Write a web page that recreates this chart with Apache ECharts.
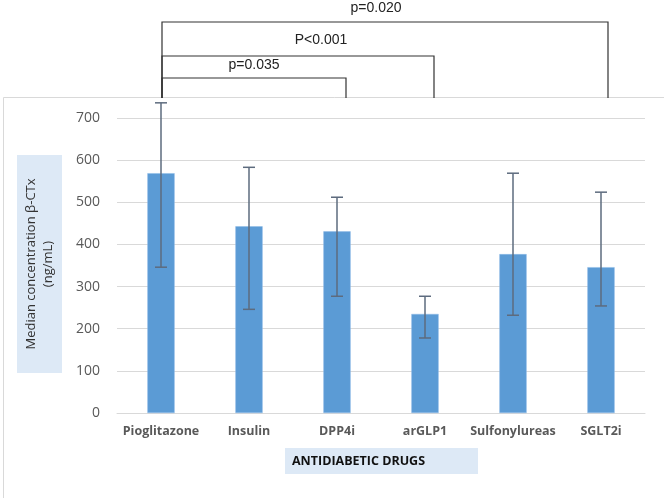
<!DOCTYPE html>
<html><head><meta charset="utf-8">
<script src="https://cdn.jsdelivr.net/npm/echarts@6/dist/echarts.min.js"></script>
<style>html,body{margin:0;padding:0;background:#fff}#c{width:664px;height:498px}</style>
</head><body><div id="c"></div>
<script>
const categories = ['Pioglitazone', 'Insulin', 'DPP4i', 'arGLP1', 'Sulfonylureas', 'SGLT2i'];
const medians = [569, 443, 431, 235, 377, 346];
const errLow = [346, 246, 277, 178, 232, 254];
const errHigh = [736, 583, 512, 277, 569, 524];
const yTicks = [0, 100, 200, 300, 400, 500, 600, 700];
const comparisons = [
  { from: 0, to: 2, label: 'p=0.035' },
  { from: 0, to: 3, label: 'P<0.001' },
  { from: 0, to: 5, label: 'p=0.020' }
];
const yTitle = ['Median concentration \u03b2-CTx', '(ng/mL)'];
const xTitle = 'ANTIDIABETIC DRUGS';

const chart = echarts.init(document.getElementById('c'), null, { renderer: 'canvas' });
const errData = categories.map((c, i) => [i, errLow[i], errHigh[i]]);

chart.setOption({
  animation: false,
  backgroundColor: '#fff',
  grid: { left: 117, right: 19, top: 118, bottom: 85 },
  xAxis: {
    type: 'category', data: categories,
    axisLine: { show: true, lineStyle: { color: '#d9d9d9' } },
    axisTick: { show: false },
    axisLabel: { interval: 0, color: '#595959', fontWeight: 'bold', fontSize: 12.5, fontFamily: 'Open Sans', margin: 12 }
  },
  yAxis: {
    type: 'value', min: yTicks[0], max: yTicks[yTicks.length - 1], interval: 100,
    axisLine: { show: false }, axisTick: { show: false },
    axisLabel: { color: '#595959', fontSize: 14, fontFamily: 'Open Sans', margin: 17 },
    splitLine: { lineStyle: { color: '#d9d9d9', width: 1 } }
  },
  series: [
    {
      type: 'bar', data: medians, barWidth: '31%',
      itemStyle: { color: '#5b9bd5', borderColor: '#8fbbe6', borderWidth: 0.5 }
    },
    {
      type: 'custom', data: errData, clip: false, z: 10,
      renderItem: function (params, api) {
        const x = api.coord([api.value(0), 0])[0];
        const lo = api.coord([api.value(0), api.value(1)])[1];
        const hi = api.coord([api.value(0), api.value(2)])[1];
        const w = 6;
        const st = { stroke: '#5d6b7e', lineWidth: 1.5 };
        return {
          type: 'group', children: [
            { type: 'line', shape: { x1: x, y1: lo, x2: x, y2: hi }, style: st },
            { type: 'line', shape: { x1: x - w, y1: hi, x2: x + w, y2: hi }, style: st },
            { type: 'line', shape: { x1: x - w, y1: lo, x2: x + w, y2: lo }, style: st }
          ]
        };
      }
    }
  ]
});

// annotations: panel, titles, significance brackets
const bracketY = [78, 56, 22];
const labelY = [65, 40, 8];
const labelShift = [0, 23, -9];
const bottomY = 98;
const graphics = [
  { type: 'rect', shape: { x: 3.5, y: 97.5, width: 700, height: 420 }, style: { fill: null, stroke: '#d9d9d9', lineWidth: 1 }, z: -1 },
  { type: 'rect', shape: { x: 17, y: 155, width: 45, height: 218 }, style: { fill: '#dde9f6' }, z: 0 },
  { type: 'text', x: 39.5, y: 264, rotation: Math.PI / 2, style: { text: yTitle.join('\n'), fill: '#333', font: '13px "Open Sans"', align: 'center', verticalAlign: 'middle', lineHeight: 17 }, z: 1 },
  { type: 'rect', shape: { x: 285, y: 448, width: 193, height: 26 }, style: { fill: '#dde9f6' }, z: 0 },
  { type: 'text', x: 292, y: 461, style: { text: xTitle, fill: '#111', font: 'bold 12.5px "Open Sans"', verticalAlign: 'middle' }, z: 1 }
];
comparisons.forEach((c, k) => {
  const x1 = chart.convertToPixel({ xAxisIndex: 0 }, c.from) + 1;
  const x2 = chart.convertToPixel({ xAxisIndex: 0 }, c.to) + (c.to === 5 ? 7 : 9);
  const y = bracketY[k];
  graphics.push({ type: 'polyline', shape: { points: [[x1, bottomY], [x1, y], [x2, y], [x2, bottomY]] }, style: { stroke: '#333', lineWidth: 1.2, fill: null }, z: 5 });
  graphics.push({ type: 'text', x: (x1 + x2) / 2 + labelShift[k], y: labelY[k], style: { text: c.label, fill: '#222', font: '14px "Liberation Sans"', align: 'center', verticalAlign: 'middle' }, z: 5 });
});
chart.setOption({ graphic: graphics });
</script>
</body></html>
